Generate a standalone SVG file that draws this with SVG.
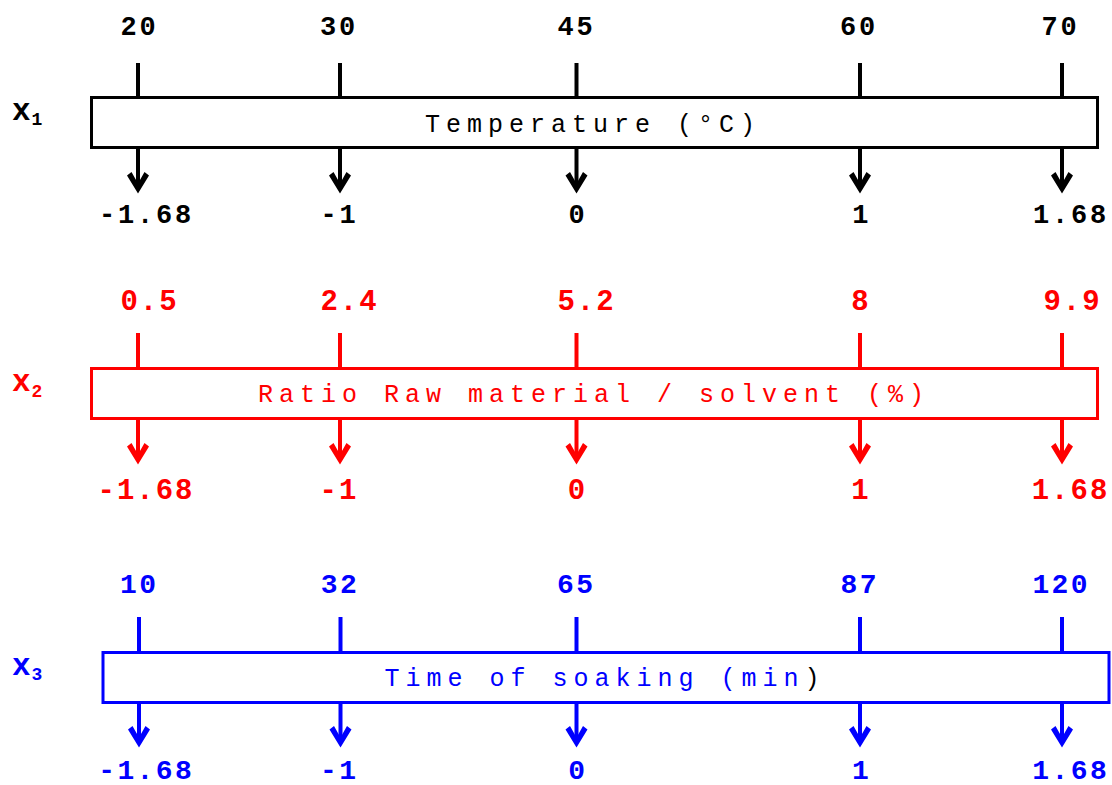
<svg xmlns="http://www.w3.org/2000/svg" width="1112" height="785" viewBox="0 0 1112 785">
<style>
.bg{fill:#fff}
.box{fill:#fff;stroke-width:3}
.tick{stroke-width:4;fill:none}
.k{stroke:#000}.kf{fill:#000}
.r{stroke:#ff0000}.rf{fill:#ff0000}
.b{stroke:#0000ff}.bf{fill:#0000ff}
.num{font-family:"Liberation Mono","Courier New",monospace;font-weight:bold;text-anchor:middle}
.n1{font-size:27px;letter-spacing:2.8px}
.n2{font-size:29px;letter-spacing:2px}
.n3{font-size:28px;letter-spacing:2.4px}
.lab{font-family:"Liberation Mono","Courier New",monospace;font-size:25px;letter-spacing:6px;text-anchor:middle}
.var{font-family:"Liberation Mono","Courier New",monospace;font-weight:bold;font-size:31px}
.sub{font-size:18px}
</style>
<defs>
<marker id="ak" markerUnits="userSpaceOnUse" markerWidth="24" markerHeight="24" viewBox="0 0 24 24" refX="17" refY="12" orient="auto"><path d="M22.5,12 L4.5,1 L1,5.5 L12.5,12 L1,18.5 L4.5,23 Z" fill="#000"/></marker>
<marker id="ar" markerUnits="userSpaceOnUse" markerWidth="24" markerHeight="24" viewBox="0 0 24 24" refX="17" refY="12" orient="auto"><path d="M22.5,12 L4.5,1 L1,5.5 L12.5,12 L1,18.5 L4.5,23 Z" fill="#ff0000"/></marker>
<marker id="ab" markerUnits="userSpaceOnUse" markerWidth="24" markerHeight="24" viewBox="0 0 24 24" refX="17" refY="12" orient="auto"><path d="M22.5,12 L4.5,1 L1,5.5 L12.5,12 L1,18.5 L4.5,23 Z" fill="#0000ff"/></marker>
</defs>
<rect class="bg" x="0" y="0" width="1112" height="785"/>

<g id="connectors">
  <g class="tick k">
    <line x1="138" y1="63" x2="138" y2="97"/><line x1="340" y1="63" x2="340" y2="97"/><line x1="576.5" y1="63" x2="576.5" y2="97"/><line x1="860" y1="63" x2="860" y2="97"/><line x1="1062" y1="63" x2="1062" y2="97"/>
  </g>
  <g class="tick k" marker-end="url(#ak)">
    <line x1="138" y1="148" x2="138" y2="188"/><line x1="340" y1="148" x2="340" y2="188"/><line x1="576.5" y1="148" x2="576.5" y2="188"/><line x1="860" y1="148" x2="860" y2="188"/><line x1="1062" y1="148" x2="1062" y2="188"/>
  </g>
  <g class="tick r">
    <line x1="138" y1="333" x2="138" y2="368"/><line x1="340" y1="333" x2="340" y2="368"/><line x1="576.5" y1="333" x2="576.5" y2="368"/><line x1="860" y1="333" x2="860" y2="368"/><line x1="1062" y1="333" x2="1062" y2="368"/>
  </g>
  <g class="tick r" marker-end="url(#ar)">
    <line x1="138" y1="419" x2="138" y2="459"/><line x1="340" y1="419" x2="340" y2="459"/><line x1="576.5" y1="419" x2="576.5" y2="459"/><line x1="860" y1="419" x2="860" y2="459"/><line x1="1062" y1="419" x2="1062" y2="459"/>
  </g>
  <g class="tick b">
    <line x1="139" y1="617" x2="139" y2="652"/><line x1="340.5" y1="617" x2="340.5" y2="652"/><line x1="576.5" y1="617" x2="576.5" y2="652"/><line x1="860" y1="617" x2="860" y2="652"/><line x1="1062" y1="617" x2="1062" y2="652"/>
  </g>
  <g class="tick b" marker-end="url(#ab)">
    <line x1="139" y1="703" x2="139" y2="742"/><line x1="340.5" y1="703" x2="340.5" y2="742"/><line x1="576.5" y1="703" x2="576.5" y2="742"/><line x1="860" y1="703" x2="860" y2="742"/><line x1="1062" y1="703" x2="1062" y2="742"/>
  </g>
</g>

<g id="x1">
  <text class="var kf" x="12" y="120">x<tspan class="sub" dx="1" dy="5">1</tspan></text>
  <rect class="box k" x="91.5" y="97.5" width="1006" height="50"/>
  <text class="lab kf" x="593" y="131.5">Temperature (°C)</text>
  <g class="num n1 kf">
    <text x="139.4" y="35">20</text><text x="338.9" y="35">30</text><text x="576.4" y="35">45</text><text x="858.9" y="35">60</text><text x="1060.4" y="35">70</text>
    <text x="146.4" y="223">-1.68</text><text x="339.4" y="223">-1</text><text x="578.1" y="223">0</text><text x="861.7" y="223">1</text><text x="1070.9" y="223">1.68</text>
  </g>
</g>

<g id="x2">
  <text class="var rf" x="12" y="391">x<tspan class="sub" dx="1" dy="6">2</tspan></text>
  <rect class="box r" x="91.5" y="368.5" width="1006" height="50"/>
  <text class="lab rf" x="594" y="401.5">Ratio Raw material / solvent (%)</text>
  <g class="num n2 rf">
    <text x="149.5" y="310">0.5</text><text x="349.5" y="310">2.4</text><text x="586.5" y="310">5.2</text><text x="861" y="310">8</text><text x="1072.5" y="310">9.9</text>
    <text x="146" y="499">-1.68</text><text x="339" y="499">-1</text><text x="577.5" y="499">0</text><text x="861" y="499">1</text><text x="1070.5" y="499">1.68</text>
  </g>
</g>

<g id="x3">
  <text class="var bf" x="12" y="675">x<tspan class="sub" dx="1" dy="5">3</tspan></text>
  <rect class="box b" x="103" y="652.5" width="1006" height="50"/>
  <text class="lab bf" x="605" y="685.5">Time of soaking (min<tspan class="kf">)</tspan></text>
  <g class="num n3 bf">
    <text x="139.2" y="593">10</text><text x="339.9" y="593">32</text><text x="576.2" y="593">65</text><text x="859.7" y="593">87</text><text x="1061.2" y="593">120</text>
    <text x="146.2" y="779">-1.68</text><text x="339.2" y="779">-1</text><text x="577.9" y="779">0</text><text x="861.5" y="779">1</text><text x="1070.7" y="779">1.68</text>
  </g>
</g>
</svg>
